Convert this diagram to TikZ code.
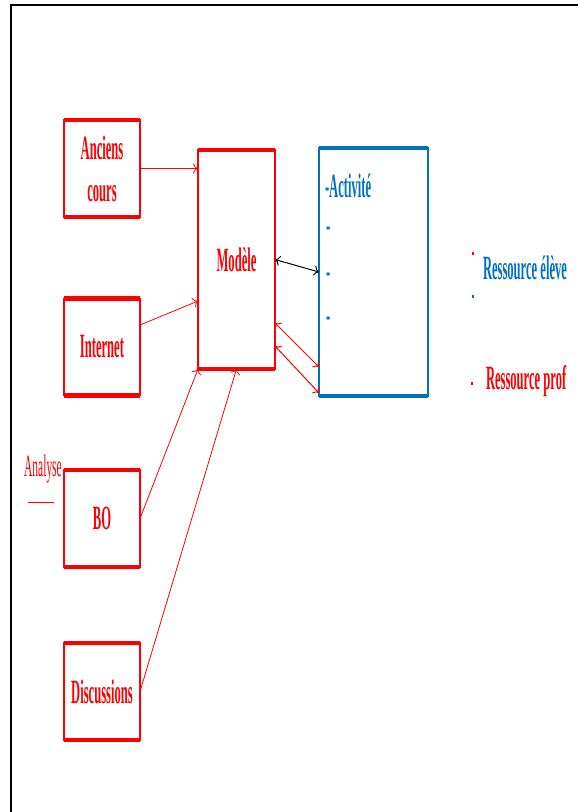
\documentclass[tikz,border=0pt]{standalone}
\usepackage{fontspec}
\newfontfamily\narrowserif[FakeStretch=0.37]{Liberation Serif}
\usetikzlibrary{arrows.meta}
\definecolor{boxred}{RGB}{255,0,0}
\definecolor{actblue}{RGB}{0,112,192}
\begin{document}
\begin{tikzpicture}[
    x=1pt, y=-1pt,
    every node/.style={
        font=\narrowserif\bfseries\fontsize{34}{42}\selectfont,
        outer sep=0pt
    },
    srcbox/.style={
        draw=boxred,
        text=boxred,
        line width=1.5pt,
        align=center,
        inner sep=0pt,
        minimum width=76pt,
        minimum height=97pt
    },
    actbox/.style={
        draw=actblue,
        line width=1.5pt,
        minimum width=109pt,
        minimum height=248pt
    },
    feed/.style={draw=boxred, line width=0.8pt, -{To[length=5pt,width=10pt]}},
    link/.style={line width=1pt, {To[length=5pt,width=10pt]}-{To[length=5pt,width=10pt]}},
    bullet/.style={inner sep=0pt, minimum width=2pt, minimum height=3pt}
]
\useasboundingbox (0,0) rectangle (578,812);
\draw[line width=1.8pt] (11,812) -- (11,5) -- (578,5);
\node[srcbox] (anc) at (102,168.5) {Anciens\\cours};
\node[srcbox] (inet) at (102,347) {Internet};
\node[srcbox] (bo) at (102,518.5) {BO};
\node[srcbox] (disc) at (102,691.5) {Discussions};
\node[srcbox, minimum width=77pt, minimum height=219pt] (modele) at (236.5,259.5) {Mod\`ele};
\node[actbox] (activite) at (373.5,272) {};
\foreach \n in {anc,inet,bo,disc,modele} {
    \draw[boxred, line width=4.5pt] (\n.north west) -- (\n.north east) (\n.south west) -- (\n.south east);
}
\draw[actblue, line width=4.5pt] (activite.north west) -- (activite.north east) (activite.south west) -- (activite.south east);
\node[actblue, anchor=west, inner sep=0pt] (actlabel) at (325,186) {-Activit\'e};
\foreach \y [count=\i] in {232,278,322} {
    \node[actblue, anchor=west, inner sep=0pt] (dash\i) at (326,\y) {-};
}
\node[boxred, font=\narrowserif\fontsize{31}{34}\selectfont] (analyse) at (43,469) {Analyse};
\draw[boxred, line width=1pt] (28,502) -- (54,502);
\node[bullet, fill=boxred] (dotA) at (473,253) {};
\node[actblue, anchor=west, inner sep=0pt] (resEleve) at (483,268) {Ressource \'el\`eve};
\node[bullet, fill=actblue] (dotB) at (473,296) {};
\node[bullet, fill=boxred] (dotC) at (472,383) {};
\node[boxred, anchor=west, inner sep=0pt] (resProf) at (486,381) {Ressource prof};
\draw[feed] (anc.east) -- (anc.east -| modele.west);
\draw[feed] ([yshift=22pt]inet.east) -- ([yshift=-41.5pt]modele.west);
\draw[feed] (bo.east) -- (modele.south west);
\draw[feed] (disc.east) -- (modele.south);
\draw[link] (modele.east) -- (activite.west);
\draw[link, boxred] ([yshift=-63.5pt]modele.east) -- ([yshift=-95pt]activite.west);
\draw[link, boxred] ([yshift=-86.5pt]modele.east) -- ([yshift=-121pt]activite.west);
\end{tikzpicture}
\end{document}
